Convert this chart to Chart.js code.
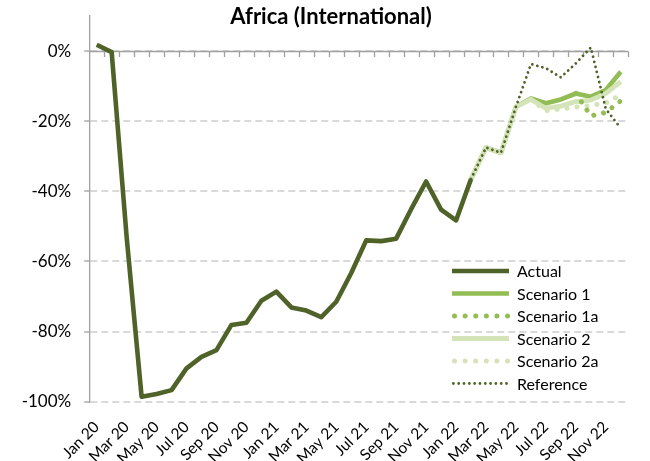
<!DOCTYPE html>
<html>
<head>
<meta charset="utf-8">
<title>Africa (International)</title>
<script src="https://cdn.jsdelivr.net/npm/chart.js@4.4.0/dist/chart.umd.min.js"></script>
<style>
  html, body { margin: 0; padding: 0; background: #fff; }
  #wrap { width: 650px; height: 461px; }
</style>
</head>
<body>
<div id="wrap"><canvas id="chart" width="650" height="461"></canvas></div>
<script>
const months = [
  'Jan 20', 'Feb 20', 'Mar 20', 'Apr 20', 'May 20', 'Jun 20', 'Jul 20', 'Aug 20', 'Sep 20', 'Oct 20', 'Nov 20', 'Dec 20',
  'Jan 21', 'Feb 21', 'Mar 21', 'Apr 21', 'May 21', 'Jun 21', 'Jul 21', 'Aug 21', 'Sep 21', 'Oct 21', 'Nov 21', 'Dec 21',
  'Jan 22', 'Feb 22', 'Mar 22', 'Apr 22', 'May 22', 'Jun 22', 'Jul 22', 'Aug 22', 'Sep 22', 'Oct 22', 'Nov 22', 'Dec 22'
];

// % change, Jan 20 .. Feb 22
const actual = [
  1.8, -0.3, -53, -98.6, -97.8, -96.7, -90.5, -87.2, -85.3, -78.1, -77.5, -71.2,
  -68.6, -73.1, -74.0, -75.9, -71.5, -63.3, -54.0, -54.2, -53.5, -45.1, -37.2, -45.2,
  -48.3, -36.5
];

// forecasts, Feb 22 .. Dec 22
const scenario1 = [-36.5, -27.5, -29.0, -15.9, -13.5, -14.9, -13.8, -12.1, -13.0, -11.1, -5.9];
const scenario2 = [-36.5, -27.5, -29.0, -15.9, -13.8, -16.3, -15.7, -14.4, -14.0, -12.1, -8.7];
const reference = [-36.5, -27.5, -29.0, -15.9, -3.7, -4.9, -7.5, -3.5, 1.0, -16.5, -22.0];
// Jun 22 .. Dec 22
const scenario2a = [-13.8, -17.0, -16.5, -16.0, -15.5, -14.8, -12.5];
// Sep 22 .. Dec 22
const scenario1a = [-12.1, -18.5, -17.5, -14.2];

const yMin = -100, yMax = 10, yStep = 20;

const darkGreen = '#4f6228';
const midGreen = '#92bd54';
const lightGreen = '#d4e4b8';
const axisGrey = '#a0a0a0';

// place a partial series on the full month axis
function fromMonth(label, vals) {
  const start = months.indexOf(label);
  return months.map((m, i) => (i < start || i - start >= vals.length) ? null : vals[i - start]);
}

// horizontal axis line sits on 0%, with tick marks between months
const zeroAxis = {
  id: 'zeroAxis',
  beforeDatasetsDraw(chart) {
    const { ctx, chartArea: a, scales: { x, y } } = chart;
    const y0 = Math.round(y.getPixelForValue(0)) + 0.5;
    const half = (x.getPixelForValue(1) - x.getPixelForValue(0)) / 2;
    ctx.save();
    ctx.strokeStyle = axisGrey;
    ctx.lineWidth = 1.3;
    ctx.beginPath();
    ctx.moveTo(a.left, y0);
    ctx.lineTo(a.right, y0);
    for (let i = 0; i < months.length; i++) {
      const tx = Math.round(x.getPixelForValue(i) + half) + 0.5;
      ctx.moveTo(tx, y0);
      ctx.lineTo(tx, y0 + 5.5);
    }
    ctx.stroke();
    ctx.restore();
  }
};

const heading = {
  id: 'heading',
  afterDraw(chart) {
    const { ctx } = chart;
    ctx.save();
    ctx.font = 'bold 22px Lato';
    ctx.fillStyle = '#000';
    ctx.textAlign = 'center';
    ctx.textBaseline = 'alphabetic';
    ctx.fillText('Africa (International)', chart.width / 2 + 6, 23.5);
    ctx.restore();
  }
};

// legend drawn inside the plot, bottom right
const innerLegend = {
  id: 'innerLegend',
  afterDatasetsDraw(chart) {
    const { ctx } = chart;
    const x0 = 452, x1 = 509, top = 271, rowH = 22.5;
    ctx.save();
    chart.data.datasets.forEach((ds, i) => {
      const yy = top + i * rowH;
      ctx.beginPath();
      ctx.strokeStyle = ds.borderColor;
      ctx.lineWidth = ds.borderWidth;
      ctx.lineCap = ds.borderCapStyle || 'butt';
      ctx.setLineDash(ds.legendDash || []);
      const start = ds.legendDash ? x0 + ds.borderWidth / 2 : x0;
      ctx.moveTo(start, yy);
      ctx.lineTo(x1, yy);
      ctx.stroke();
      ctx.setLineDash([]);
      ctx.font = '16px Lato';
      ctx.fillStyle = '#000';
      ctx.textBaseline = 'middle';
      ctx.fillText(ds.label, x1 + 8, yy + 1);
    });
    ctx.restore();
  }
};

const line = (label, data, color, width, extra) => Object.assign({
  label, data,
  borderColor: color,
  backgroundColor: color,
  borderWidth: width,
  borderJoinStyle: 'round',
  pointRadius: 0,
  pointHoverRadius: 0,
  tension: 0,
  spanGaps: false,
  fill: false
}, extra);

new Chart(document.getElementById('chart'), {
  type: 'line',
  data: {
    labels: months,
    datasets: [
      line('Actual', actual.concat(months.slice(actual.length).map(() => null)), darkGreen, 4.6, { order: 1 }),
      line('Scenario 1', fromMonth('Feb 22', scenario1), midGreen, 4.6, { order: 5 }),
      line('Scenario 1a', fromMonth('Sep 22', scenario1a), midGreen, 5, {
        order: 2, borderCapStyle: 'round', borderDash: [0.01, 10], legendDash: [0.01, 10.6]
      }),
      line('Scenario 2', fromMonth('Feb 22', scenario2), lightGreen, 4.8, { order: 4 }),
      line('Scenario 2a', fromMonth('Jun 22', scenario2a), lightGreen, 5, {
        order: 3, borderCapStyle: 'round', borderDash: [0.01, 10], legendDash: [0.01, 10.6]
      }),
      line('Reference', fromMonth('Feb 22', reference), darkGreen, 2.8, {
        order: 0, borderCapStyle: 'round', borderDash: [0.01, 5.2], legendDash: [0.01, 5.3]
      })
    ]
  },
  options: {
    responsive: false,
    animation: false,
    devicePixelRatio: 1,
    layout: { padding: { top: 16, right: 5.7, left: 0, bottom: 0 } },
    plugins: {
      legend: { display: false },
      title: { display: false },
      tooltip: { enabled: false }
    },
    scales: {
      x: {
        type: 'category',
        offset: true,
        grid: { display: false, drawTicks: false },
        border: { display: false },
        ticks: {
          autoSkip: false,
          maxRotation: 45,
          minRotation: 45,
          padding: 16,
          color: '#000',
          font: { family: 'Lato', size: 15.5 },
          callback: (v, i) => (i % 2 === 0 ? months[i] : '')
        },
        afterFit: (scale) => { scale.height = 59.3; }
      },
      y: {
        min: yMin,
        max: yMax,
        afterBuildTicks: (scale) => {
          scale.ticks = scale.ticks.filter(t => t.value <= 0);
        },
        ticks: {
          stepSize: yStep,
          padding: 13,
          color: '#000',
          font: { family: 'Lato', size: 17 },
          callback: (v) => v + '%'
        },
        grid: {
          color: '#d9d9d9',
          lineWidth: 2,
          drawTicks: true,
          tickLength: 5,
          tickColor: axisGrey,
          tickWidth: 1.3,
          tickBorderDash: []
        },
        border: { display: true, color: axisGrey, width: 1.3, dash: [7, 4] },
        afterFit: (scale) => {
          scale.width = 89.2;
          // the top label sits well inside the plot, so no extra headroom
          scale.paddingTop = 0;
          scale.paddingBottom = 0;
        }
      }
    }
  },
  plugins: [zeroAxis, heading, innerLegend]
});
</script>
</body>
</html>
